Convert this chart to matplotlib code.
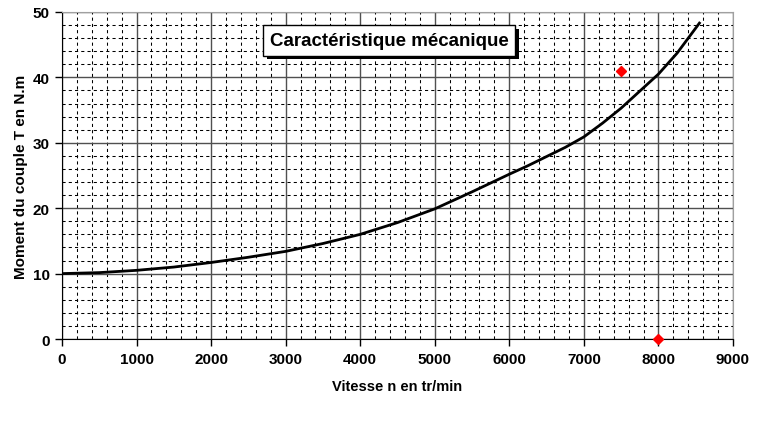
import numpy as np
import matplotlib.pyplot as plt
import matplotlib.patheffects as pe
from matplotlib.ticker import MultipleLocator

plt.rcParams['font.family'] = ['Liberation Sans', 'DejaVu Sans']

# Courbe T = f(n)
vitesse = [0, 500, 1000, 1500, 2000, 2500, 3000, 3500, 4000, 4500,
           5000, 5500, 6000, 6250, 6500, 6750, 7000, 7250, 7500, 7750,
           8000, 8250, 8550]
couple = [10.0, 10.15, 10.5, 11.0, 11.7, 12.5, 13.4, 14.6, 16.0, 17.8,
          19.9, 22.5, 25.2, 26.5, 27.9, 29.3, 30.9, 33.0, 35.3, 37.9,
          40.5, 43.7, 48.3]

# Points isolés (rouges)
pts_n = [7500, 8000]
pts_T = [41.0, 0.0]

fig = plt.figure(figsize=(7.8, 4.39), dpi=100)
ax = fig.add_axes([0.0795, 0.2255, 0.8602, 0.7449])

ax.set_xlim(0, 9000)
ax.set_ylim(0, 50)
ax.xaxis.set_major_locator(MultipleLocator(1000))
ax.yaxis.set_major_locator(MultipleLocator(10))
ax.xaxis.set_minor_locator(MultipleLocator(200))
ax.yaxis.set_minor_locator(MultipleLocator(2))

ax.grid(which='minor', color='black', linestyle=(0, (3, 3)), linewidth=0.75)
ax.grid(which='major', color='#505050', linestyle='-', linewidth=1.0)
ax.set_axisbelow(True)

ax.plot(vitesse, couple, color='black', linewidth=2.0, zorder=3,
        solid_joinstyle='round')
ax.plot(pts_n, pts_T, linestyle='none', marker='D', color='red',
        markersize=5.5, zorder=4, clip_on=False)

for s in ['top', 'right']:
    ax.spines[s].set_color('#a0a0a0')
for s in ['left', 'bottom']:
    ax.spines[s].set_color('black')

ax.tick_params(which='minor', length=0)
ax.tick_params(which='major', length=5, width=1, labelsize=11, pad=4)
for lab in ax.get_xticklabels() + ax.get_yticklabels():
    lab.set_fontweight('bold')

ax.set_xlabel('Vitesse n en tr/min', fontsize=10.5, fontweight='bold', labelpad=10)
ax.set_ylabel('Moment du couple T en N.m', fontsize=11, fontweight='bold', labelpad=3)

# titre encadré avec ombre
titre = ax.text(0.4875, 0.913, 'Caractéristique mécanique', transform=ax.transAxes,
                ha='center', va='center', fontsize=13.5, fontweight='bold', color='black',
                bbox=dict(boxstyle='square,pad=0.35', facecolor='white', edgecolor='black',
                          linewidth=1),
                zorder=6)
titre.get_bbox_patch().set_path_effects([
    pe.SimplePatchShadow(offset=(2.5, -2.5), shadow_rgbFace='black', alpha=1.0),
    pe.Normal()])

fig.savefig('out.png', dpi=100)
